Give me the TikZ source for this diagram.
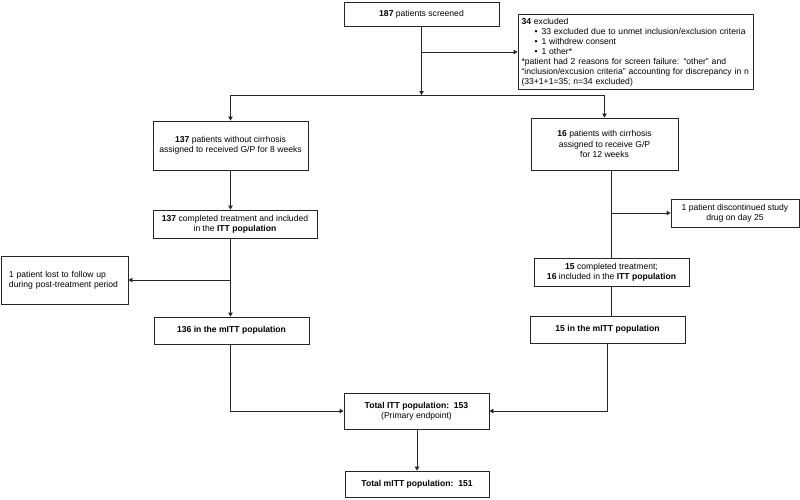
\documentclass[tikz,border=0pt]{standalone}
\usepackage{fontspec}
\setmainfont{Liberation Sans}
\usetikzlibrary{arrows.meta}

\begin{document}
\begin{tikzpicture}[x=1pt, y=-1pt,
    box/.style={draw=black!85, line width=0.9pt, align=center, inner sep=2pt,
      font=\fontsize{8.6}{10.3}\selectfont},
    conn/.style={draw=black!85, line width=0.9pt},
    arr/.style={conn, -{Triangle[length=4pt,width=4.5pt]}}]
  \useasboundingbox (0,0) rectangle (800,499);
  % screening
  \node[box, minimum width=155pt, minimum height=24pt] (screen) at (421.5,14) {\textbf{187} patients screened};
  \node[box, align=left, text width=228pt, inner sep=3.5pt, minimum height=72pt,
        font=\fontsize{8.6}{10}\selectfont] (excl) at (635.5,52)
    {\textbf{34} excluded\\
     \hspace*{13pt}\textbullet\hspace{4pt}33 excluded due to unmet inclusion/exclusion criteria\\
     \hspace*{13pt}\textbullet\hspace{4pt}1 withdrew consent\\
     \hspace*{13pt}\textbullet\hspace{4pt}1 other*\\
     {*}patient had 2 reasons for screen failure: “other” and\\
     “inclusion/excusion criteria” accounting for discrepancy in n\\
     (33+1+1=35; n=34 excluded)};
  % arms
  \node[box, minimum width=155pt, minimum height=49pt] (noncirr) at (230.5,145.5)
    {\textbf{137} patients without cirrhosis\\assigned to received G/P for 8 weeks};
  \node[box, minimum width=147pt, minimum height=52pt] (cirr) at (604.5,144)
    {\textbf{16} patients with cirrhosis\\assigned to receive G/P\\for 12 weeks};
  \node[box, minimum width=164pt, minimum height=28pt] (noncirrITT) at (235,224)
    {\textbf{137} completed treatment and included\\in the \textbf{ITT population}};
  \node[box, minimum width=128pt, minimum height=28pt] (disc) at (735,213)
    {1 patient discontinued study\\drug on day 25};
  \node[box, minimum width=155pt, minimum height=28pt] (cirrITT) at (611.5,272)
    {\textbf{15} completed treatment;\\\textbf{16} included in the \textbf{ITT population}};
  \node[box, align=left, text width=111pt, inner xsep=8pt, minimum height=48pt] (lost) at (64.5,280)
    {1 patient lost to follow up\\during post-treatment period};
  \node[box, minimum width=155pt, minimum height=27pt] (noncirrmITT) at (231.5,330.5)
    {\textbf{136 in the mITT population}};
  \node[box, minimum width=155pt, minimum height=27pt] (cirrmITT) at (607.5,329.5)
    {\textbf{15 in the mITT population}};
  % totals
  \node[box, minimum width=145pt, minimum height=36pt] (totITT) at (416.5,411)
    {\textbf{Total ITT population:~~153}\\(Primary endpoint)};
  \node[box, minimum width=144pt, minimum height=26pt] (totmITT) at (417,484)
    {\textbf{Total mITT population:~~151}};

  \coordinate (split) at (421.5,95);
  \coordinate (ljoin) at (230.5,411);
  \coordinate (rjoin) at (607.5,411);

  \draw[arr] (screen.south) -- (split);
  \draw[arr] (screen.south |- excl.west) -- (excl.west);
  \draw[conn] (noncirr.north |- split) -- (cirr.north |- split);
  \draw[arr] (noncirr.north |- split) -- (noncirr.north);
  \draw[arr] (cirr.north |- split) -- (cirr.north);

  \draw[arr] (noncirr.south) -- (noncirr.south |- noncirrITT.north);
  \draw[arr] (noncirr.south |- noncirrITT.south) -- (noncirr.south |- noncirrmITT.north);
  \draw[arr] (noncirr.south |- lost.east) -- (lost.east);

  \draw[conn] (cirrITT.north |- cirr.south) -- (cirrITT.north);
  \draw[arr] (cirrITT.north |- disc.west) -- (disc.west);
  \draw[conn] (cirrITT.north |- cirrITT.south) -- (cirrITT.north |- cirrmITT.north);

  \draw[arr] (noncirrmITT.south -| ljoin) -- (ljoin) -- (totITT.west |- ljoin);
  \draw[arr] (cirrmITT.south) -- (rjoin) -- (totITT.east |- rjoin);
  \draw[arr] (totITT.south -| totmITT.north) -- (totmITT.north);
\end{tikzpicture}
\end{document}
